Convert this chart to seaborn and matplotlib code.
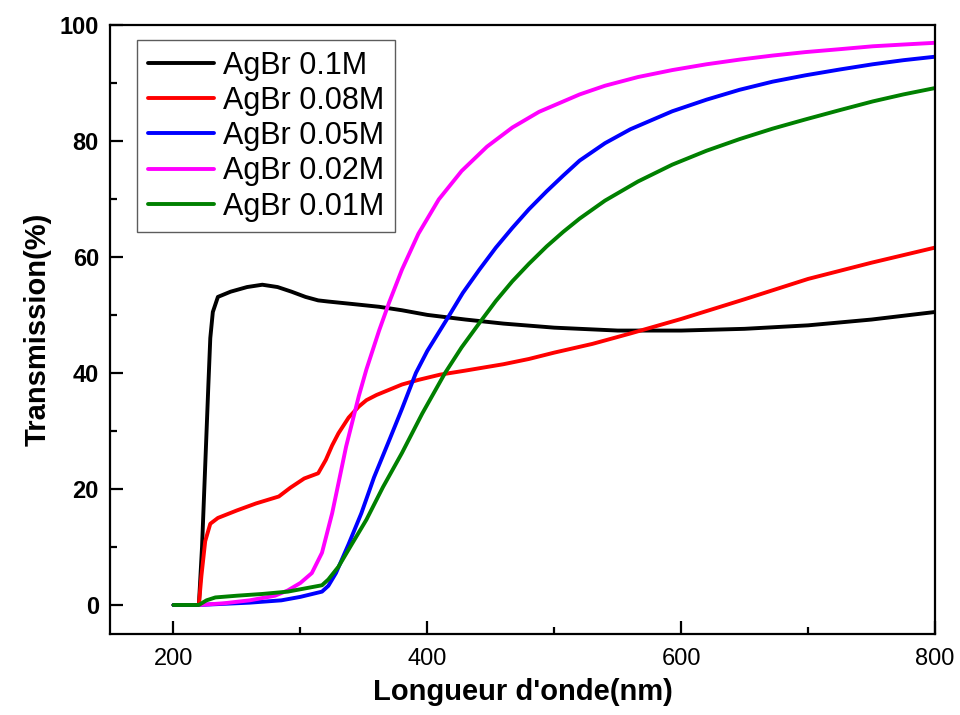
import matplotlib
matplotlib.use("Agg")
import matplotlib.pyplot as plt
from matplotlib.ticker import MultipleLocator
import pandas as pd
import seaborn as sns

# Wavelength (nm) and transmission (%) for each AgBr concentration
wl_01 = [200, 220, 222.5, 225, 227.5, 229, 231, 235, 245, 258, 270, 282, 293, 304, 314, 322,
         340, 362, 380, 400, 430, 460, 500, 550, 600, 650, 700, 750, 800]
tr_01 = [0, 0, 10, 24, 38, 46, 50.5, 53.1, 54.0, 54.8, 55.2, 54.8, 54.0, 53.1, 52.5, 52.3,
         51.9, 51.4, 50.8, 50.0, 49.2, 48.5, 47.8, 47.3, 47.3, 47.6, 48.2, 49.2, 50.5]

wl_008 = [200, 220, 222, 225, 229, 235, 250, 265, 283, 292, 303, 314, 320, 325, 330, 338,
          346, 352, 360, 370, 380, 393, 410, 430, 460, 480, 500, 530, 560, 600, 650, 700, 750, 800]
tr_008 = [0, 0, 5, 11, 14, 15, 16.3, 17.5, 18.7, 20.2, 21.8, 22.7, 25, 27.5, 29.6, 32.3,
          34.2, 35.3, 36.2, 37.1, 38.0, 38.8, 39.7, 40.4, 41.5, 42.4, 43.5, 45, 46.8, 49.3, 52.7, 56.2, 59, 61.6]

wl_005 = [200, 220, 240, 260, 285, 300, 317, 322, 328, 338, 348, 358, 370, 380, 391, 400,
          415, 428, 441, 454, 467, 480, 494, 507, 520, 540, 560, 593, 620, 646, 672, 698, 725, 751, 775, 800]
tr_005 = [0, 0, 0.2, 0.4, 0.8, 1.4, 2.3, 3.3, 5.5, 10.5, 15.8, 22, 28.4, 33.8, 40, 43.8,
          49.1, 53.8, 57.8, 61.6, 65.0, 68.2, 71.3, 74.0, 76.6, 79.6, 82.0, 85.1, 87.1, 88.8, 90.2, 91.3, 92.3, 93.2, 93.9, 94.5]

wl_002 = [220, 240, 260, 280, 290, 300, 309, 317, 325, 330, 336, 346, 352, 362, 370, 380,
          393, 409, 427, 447, 467, 488, 520, 540, 566, 593, 620, 646, 672, 698, 725, 751, 775, 800]
tr_002 = [0, 0.3, 0.8, 1.6, 2.5, 3.8, 5.5, 9, 15.8, 21, 27.3, 36.0, 40.6, 47.3, 52.2, 57.8,
          64.0, 69.9, 74.8, 79.0, 82.3, 85.0, 88.0, 89.5, 91.0, 92.2, 93.2, 94.0, 94.7, 95.3, 95.8, 96.3, 96.6, 96.9]

wl_001 = [200, 220, 226, 233, 250, 270, 290, 317, 322, 330, 340, 352, 365, 380, 396, 414,
          427, 441, 454, 467, 480, 494, 507, 520, 540, 566, 593, 620, 646, 672, 698, 725, 751, 775, 800]
tr_001 = [0, 0, 0.8, 1.3, 1.6, 1.9, 2.3, 3.4, 4.4, 6.6, 10.3, 14.7, 20.3, 26.2, 33.0, 40,
          44.4, 48.6, 52.4, 55.8, 58.8, 61.8, 64.3, 66.6, 69.7, 73.0, 75.9, 78.3, 80.3, 82.1, 83.7, 85.3, 86.8, 88.0, 89.1]

labels = ["AgBr 0.1M", "AgBr 0.08M", "AgBr 0.05M", "AgBr 0.02M", "AgBr 0.01M"]
colors = ["#000000", "#ff0000", "#0000ff", "#ff00ff", "#008000"]

x_ticks = [200, 400, 600, 800]
y_ticks = [0, 20, 40, 60, 80, 100]

series = [(wl_01, tr_01), (wl_008, tr_008), (wl_005, tr_005), (wl_002, tr_002), (wl_001, tr_001)]
frames = []
for lab, (w, t) in zip(labels, series):
    frames.append(pd.DataFrame({"wl": w, "tr": t, "sample": lab}))
df = pd.concat(frames, ignore_index=True)

sns.set_theme(style="ticks")
plt.rcParams["font.family"] = ["Liberation Sans", "DejaVu Sans"]
plt.rcParams["text.color"] = "black"
plt.rcParams["axes.labelcolor"] = "black"

fig = plt.figure(figsize=(9.6, 7.15), dpi=100)
ax = fig.add_axes([0.1146, 0.1133, 0.8594, 0.852])

sns.lineplot(data=df, x="wl", y="tr", hue="sample", hue_order=labels,
             palette=dict(zip(labels, colors)), sort=False, estimator=None,
             linewidth=2.8, ax=ax)

ax.set_xlim(150, 800)
ax.set_ylim(-5, 100)
ax.set_xticks(x_ticks)
ax.set_yticks(y_ticks)
ax.xaxis.set_minor_locator(MultipleLocator(100))
ax.yaxis.set_minor_locator(MultipleLocator(10))
ax.tick_params(which="major", direction="in", length=9.5, width=1.6, colors="black",
               labelcolor="black", top=False, right=False)
ax.tick_params(which="minor", direction="in", length=5, width=1.6, colors="black",
               top=False, right=False)
for lbl in ax.get_xticklabels():
    lbl.set_fontsize(17)
for lbl in ax.get_yticklabels():
    lbl.set_fontsize(17)
    lbl.set_fontweight("bold")
ax.tick_params(axis="x", pad=10)
ax.tick_params(axis="y", pad=8)

for sp in ax.spines.values():
    sp.set_visible(True)
    sp.set_linewidth(1.6)
    sp.set_color("black")

ax.set_xlabel("Longueur d'onde(nm)", fontsize=21, fontweight="bold", labelpad=6, color="black")
ax.set_ylabel("Transmission(%)", fontsize=21, fontweight="bold", labelpad=6, color="black")

leg = ax.legend(loc="upper left", bbox_to_anchor=(0.033, 0.975), fontsize=22,
                frameon=True, fancybox=False, edgecolor="#333333",
                handlelength=2.15, handletextpad=0.3, labelspacing=0.17,
                borderpad=0.35, borderaxespad=0)
leg.get_frame().set_linewidth(1.0)
for h in leg.get_lines():
    h.set_linewidth(2.8)
for t in leg.get_texts():
    t.set_color("black")

fig.savefig("out.png", dpi=100)
